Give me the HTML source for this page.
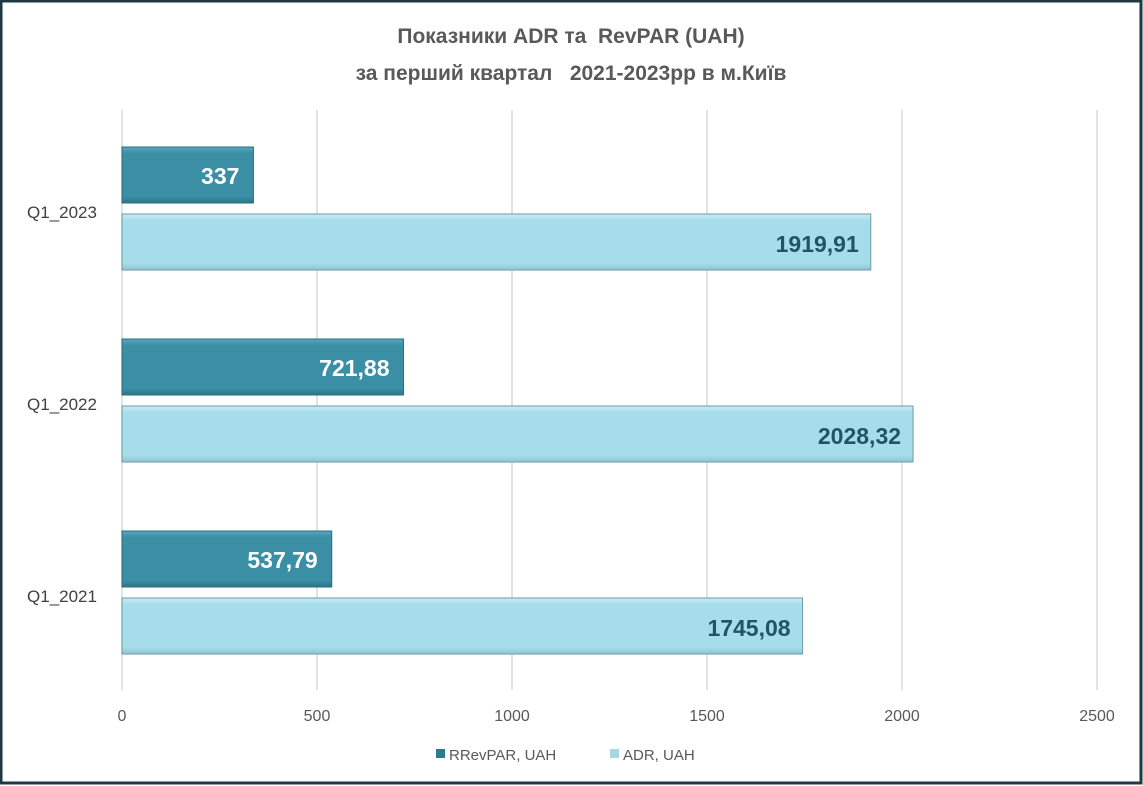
<!DOCTYPE html>
<html><head><meta charset="utf-8">
<style>
html,body{margin:0;padding:0;background:#fff}
svg{display:block;font-family:"Liberation Sans",sans-serif}
.pre{white-space:pre}
</style></head>
<body>
<svg id="chart" width="1143" height="786" viewBox="0 0 1143 786">
<defs>
<linearGradient id="gd" x1="0" y1="0" x2="0" y2="1">
<stop offset="0" stop-color="#55a8bc"/><stop offset="0.12" stop-color="#3a8fa5"/><stop offset="0.88" stop-color="#3a8fa5"/><stop offset="1" stop-color="#2b7588"/></linearGradient>
<linearGradient id="gl" x1="0" y1="0" x2="0" y2="1">
<stop offset="0" stop-color="#c8ecf5"/><stop offset="0.12" stop-color="#a7dceb"/><stop offset="0.88" stop-color="#a7dceb"/><stop offset="1" stop-color="#8cc6d6"/></linearGradient>
</defs>
<rect x="1" y="1" width="1140" height="782" fill="#fff" stroke="#1d3a40" stroke-width="3"/>
<text class="pre" x="571" y="43" text-anchor="middle" font-size="21" font-weight="bold" fill="#595959">Показники ADR та  RevPAR (UAH)</text>
<text class="pre" x="571" y="80" text-anchor="middle" font-size="21" font-weight="bold" fill="#595959">за перший квартал   2021-2023рр в м.Київ</text>
<g id="grid"></g>
<g id="bars"></g>
<g id="labels"></g>
<g>
<rect x="436" y="749" width="9" height="9" fill="#2b7a8e"/>
<text x="449" y="760" font-size="15" fill="#595959">RRevPAR, UAH</text>
<rect x="610" y="749" width="9" height="9" fill="#a7d6e2"/>
<text x="623" y="760" font-size="15" fill="#595959">ADR, UAH</text>
</g>
</svg>
<script>
const categories = ["Q1_2023","Q1_2022","Q1_2021"];
const revpar = [337, 721.88, 537.79];
const adr = [1919.91, 2028.32, 1745.08];
const revparLabels = ["337","721,88","537,79"];
const adrLabels = ["1919,91","2028,32","1745,08"];
const ticks = [0,500,1000,1500,2000,2500];
const NS="http://www.w3.org/2000/svg";
const x0=122, pxPer=0.39, plotTop=110, plotBottom=690, bandH=192;
const xs=v=>x0+v*pxPer;
function mk(tag,attrs,parent){const e=document.createElementNS(NS,tag);for(const k in attrs)e.setAttribute(k,attrs[k]);parent.appendChild(e);return e;}
const grid=document.getElementById('grid'),bars=document.getElementById('bars'),labels=document.getElementById('labels');
ticks.forEach(t=>{
  const l=mk('line',{x1:xs(t),x2:xs(t),y1:plotTop,y2:plotBottom,stroke:'#d9d9d9','stroke-width':1.5},grid);
  
  
  const tx=mk('text',{x:xs(t),y:721,'text-anchor':'middle','font-size':16,fill:'#595959'},grid);
  tx.textContent=t;
  
  
});
categories.forEach((c,i)=>{
  const bandTop=plotTop+12+i*bandH;
  const cy=bandTop+(bandH/2)-8;
  const cl=mk('text',{x:62,y:cy+8,'text-anchor':'middle','font-size':17,fill:'#404040'},labels);
  cl.textContent=c;
  
  
  const dY=bandTop+25, lY=bandTop+92, h=56;
  const d=mk('rect',{x:x0,y:dY,width:revpar[i]*pxPer,height:h,fill:'url(#gd)',stroke:'#2a6f80','stroke-width':1},bars);
  
  
  const dt=mk('text',{x:xs(revpar[i])-14,y:dY+37,'text-anchor':'end','font-size':23,'font-weight':'bold',fill:'#fff'},labels);
  dt.textContent=revparLabels[i];
  
  
  const lb=mk('rect',{x:x0,y:lY,width:adr[i]*pxPer,height:h,fill:'url(#gl)',stroke:'#6f9aa6','stroke-width':1},bars);
  
  
  const lt=mk('text',{x:xs(adr[i])-12,y:lY+38,'text-anchor':'end','font-size':23,'font-weight':'bold',fill:'#1f5566'},labels);
  lt.textContent=adrLabels[i];
  
  
});
</script>
</body></html>
